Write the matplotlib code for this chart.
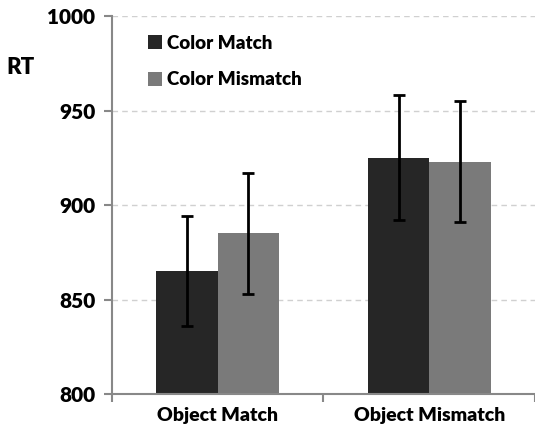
import matplotlib.pyplot as plt
import numpy as np

groups = ['Object Match', 'Object Mismatch']
series = ['Color Match', 'Color Mismatch']
color_match = [865, 925]
color_mismatch = [885, 923]
err_match = [29, 33]
err_mismatch = [32, 32]

plt.rcParams['font.family'] = ['Lato', 'DejaVu Sans']
plt.rcParams['font.weight'] = 'bold'

fig = plt.figure(figsize=(5.35, 4.36), dpi=100)
ax = fig.add_axes([0.209, 0.0963, 0.791, 0.867])

x = np.arange(len(groups))
w = 0.29
ekw = dict(ecolor='black', elinewidth=2, capsize=4, capthick=2)
ax.bar(x - w / 2, color_match, w, color='#262626', yerr=err_match,
       error_kw=ekw, label=series[0], zorder=2)
ax.bar(x + w / 2, color_mismatch, w, color='#7a7a7a', yerr=err_mismatch,
       error_kw=ekw, label=series[1], zorder=2)

ax.set_ylim(800, 1000)
ax.set_xlim(-0.5, 1.5)
ax.set_yticks([800, 850, 900, 950, 1000])
ax.yaxis.grid(True, linestyle=(0, (4, 3)), color='#d0d0d0', linewidth=1)
ax.set_axisbelow(True)

# category boundaries get the tick marks, labels sit at the group centres
ax.set_xticks([-0.5, 0.5, 1.5])
ax.set_xticklabels([])
ax.set_xticks(x, minor=True)
ax.set_xticklabels(groups, minor=True, fontsize=14, fontweight='heavy')
ax.tick_params(axis='x', which='minor', length=0, pad=9)
ax.tick_params(axis='x', which='major', length=6, width=1.5, color='#888888')
ax.tick_params(axis='y', length=6, width=1.5, color='#888888',
               labelsize=15, pad=6)
for t in ax.get_yticklabels():
    t.set_fontweight('heavy')

for s in ['top', 'right']:
    ax.spines[s].set_visible(False)
for s in ['left', 'bottom']:
    ax.spines[s].set_color('#888888')
    ax.spines[s].set_linewidth(1.5)

fig.text(0.012, 0.845, 'RT', fontsize=16, fontweight='heavy', va='center')

ax.legend(loc='upper left', bbox_to_anchor=(0.045, 0.995), frameon=False,
          handlelength=0.75, handleheight=0.75, handletextpad=0.3,
          labelspacing=1.05, prop={'weight': 'heavy', 'size': 13.5})

fig.savefig('out.png', dpi=100)
